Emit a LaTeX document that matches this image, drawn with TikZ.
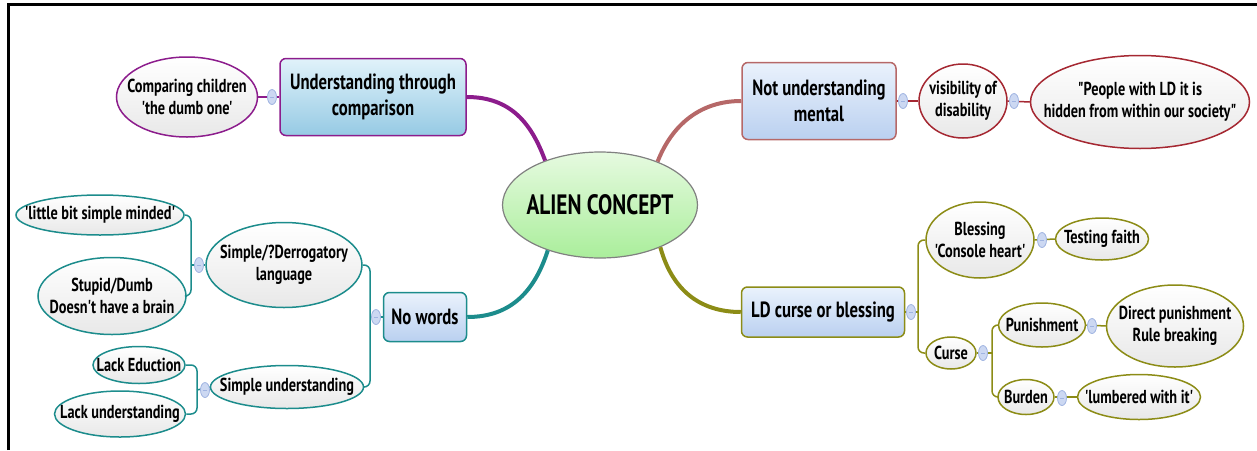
\documentclass[tikz,border=0pt]{standalone}
\usepackage{fontspec}
\setmainfont{PT Sans}[FakeStretch=0.76, Ligatures=TeXOff]
\usetikzlibrary{shapes.geometric}
\definecolor{purp}{RGB}{140,28,140}
\definecolor{rosy}{RGB}{182,104,104}
\definecolor{wine}{RGB}{165,40,50}
\definecolor{tealb}{RGB}{28,140,140}
\definecolor{oliv}{RGB}{140,140,22}
\definecolor{knobfill}{RGB}{204,216,242}
\definecolor{knobline}{RGB}{160,180,225}
\begin{document}
\begin{tikzpicture}
	[x=0.5pt, y=-0.5pt, every node/.style={inner sep=0pt, align=center, font=\bfseries\fontsize{9.4}{10.8}\selectfont},
	leaf/.style={ellipse, draw=#1, line width=0.75pt, inner xsep=-40pt, inner ysep=-20pt, top color=white, bottom color=gray!18},
	topic/.style={rectangle, rounded corners=3pt, draw=#1, line width=0.75pt, top color={rgb,255:red,234;green,242;blue,252}, bottom color={rgb,255:red,186;green,208;blue,240}, font=\bfseries\fontsize{11}{13.2}\selectfont},
	knob/.style={ellipse, draw=knobline, fill=knobfill, minimum width=4.5pt, minimum height=7.5pt, path picture={\draw[knobline, line width=0.4pt] ([xshift=-1.2pt]path picture bounding box.center) -- ([xshift=1.2pt]path picture bounding box.center);}},
	twig/.style={draw=#1, line width=0.75pt, rounded corners=3pt},
	bough/.style={draw=#1, line width=2pt}]
	\useasboundingbox (0,0) rectangle (1257,450);
	\draw[line width=1.5pt] (8,450) -- (8,4) -- (1257,4);
	\node[ellipse, draw=gray, line width=0.6pt, inner xsep=-40pt, inner ysep=-20pt, top color={rgb,255:red,230;green,250;blue,224}, bottom color={rgb,255:red,170;green,238;blue,155}, minimum width=97.5pt, minimum height=53pt, font=\bfseries\fontsize{14}{16}\selectfont] (alien) at (600,205) {ALIEN CONCEPT};
	\node[topic=purp, minimum width=93pt, minimum height=38.5pt, top color={rgb,255:red,224;green,242;blue,250}, bottom color={rgb,255:red,150;green,202;blue,228}] (und) at (373,97) {Understanding through\\comparison};
	\node[leaf=purp, minimum width=70.5pt, minimum height=40pt] (cmp) at (187,97) {Comparing children\\'the dumb one'};
	\node[topic=rosy, minimum width=77pt, minimum height=38.5pt] (nt) at (819,101) {Not understanding\\mental};
	\node[leaf=wine, minimum width=44pt, minimum height=37pt] (vis) at (963,101) {visibility of\\disability};
	\node[leaf=wine, minimum width=109.5pt, minimum height=46.5pt] (ppl) at (1140,102) {"People with LD it is\\hidden from within our society"};
	\node[topic=tealb, minimum width=41.5pt, minimum height=24.5pt] (nowords) at (425,317) {No words};
	\node[leaf=tealb, minimum width=78pt, minimum height=42.5pt] (simple) at (284,265) {Simple/?Derrogatory\\language};
	\node[leaf=tealb, minimum width=84pt, minimum height=20pt] (little) at (100,215) {'little bit simple minded'};
	\node[leaf=tealb, minimum width=74pt, minimum height=38.5pt] (stupid) at (112,296) {Stupid/Dumb\\Doesn't have a brain};
	\node[leaf=tealb, minimum width=76.5pt, minimum height=21.5pt] (simpund) at (287,387) {Simple understanding};
	\node[leaf=tealb, minimum width=46pt, minimum height=18.5pt] (educ) at (139,365) {Lack Eduction};
	\node[leaf=tealb, minimum width=65.5pt, minimum height=23pt] (lackund) at (120,414) {Lack understanding};
	\node[topic=oliv, minimum width=81.5pt, minimum height=25pt] (ld) at (823,312) {LD curse or blessing};
	\node[leaf=oliv, minimum width=54pt, minimum height=38pt] (bless) at (980,240) {Blessing\\'Console heart'};
	\node[leaf=oliv, minimum width=46.5pt, minimum height=21pt] (faith) at (1102,239) {Testing faith};
	\node[leaf=oliv, minimum width=25pt, minimum height=16pt] (curse) at (951,353) {Curse};
	\node[leaf=oliv, minimum width=43.5pt, minimum height=22pt] (punish) at (1042,325) {Punishment};
	\node[leaf=oliv, minimum width=68.5pt, minimum height=41pt] (direct) at (1175,326) {Direct punishment\\Rule breaking};
	\node[leaf=oliv, minimum width=28pt, minimum height=17.5pt] (burden) at (1026,397) {Burden};
	\node[leaf=oliv, minimum width=61.5pt, minimum height=22.5pt] (lumb) at (1139,397) {'lumbered with it'};
	\coordinate (b1) at (191,265);
	\coordinate (b2) at (370,317);
	\coordinate (b3) at (197,390);
	\coordinate (b4) at (918,312);
	\coordinate (b5) at (992,353);
	\draw[bough=purp] (und.east) .. controls (512,97) and (532,125) .. (alien.141);
	\draw[bough=rosy] (alien.37) .. controls (672,125) and (700,101) .. (nt.west);
	\draw[bough=tealb] (nowords.east) .. controls (512,317) and (535,290) .. (alien.221);
	\draw[bough=oliv] (alien.325) .. controls (672,290) and (700,312) .. (ld.west);
	\draw[twig=purp] (cmp.east) -- (und.west);
	\draw[twig=wine] (nt.east) -- (vis.west);
	\draw[twig=wine] (vis.east) -- (ppl.west);
	\draw[twig=tealb] (little.east) -| (b1) |- (stupid.east);
	\draw[twig=tealb] (b1) -- (simple.west);
	\draw[twig=tealb] (simple.east) -| (b2) |- (simpund.east);
	\draw[twig=tealb] (b2) -- (nowords.west);
	\draw[twig=tealb] (educ.east) -| (b3) |- (lackund.east);
	\draw[twig=tealb] (b3) -- (simpund.west);
	\draw[twig=oliv] (ld.east) -- (b4);
	\draw[twig=oliv] (bless.west) -| (b4) |- (curse.west);
	\draw[twig=oliv] (bless.east) -- (faith.west);
	\draw[twig=oliv] (curse.east) -- (b5);
	\draw[twig=oliv] (punish.west) -| (b5) |- (burden.west);
	\draw[twig=oliv] (punish.east) -- (direct.west);
	\draw[twig=oliv] (burden.east) -- (lumb.west);
	\node[knob] (k1) at (272,97) {};
	\node[knob] (k2) at (903,101) {};
	\node[knob] (k3) at (1014,101) {};
	\node[knob] (k4) at (199,265) {};
	\node[knob] (k5) at (376,317) {};
	\node[knob] (k6) at (205,390) {};
	\node[knob] (k7) at (911,312) {};
	\node[knob] (k8) at (1042,240) {};
	\node[knob] (k9) at (983,353) {};
	\node[knob] (k10) at (1092,326) {};
	\node[knob] (k11) at (1062,398) {};
\end{tikzpicture}
\end{document}
